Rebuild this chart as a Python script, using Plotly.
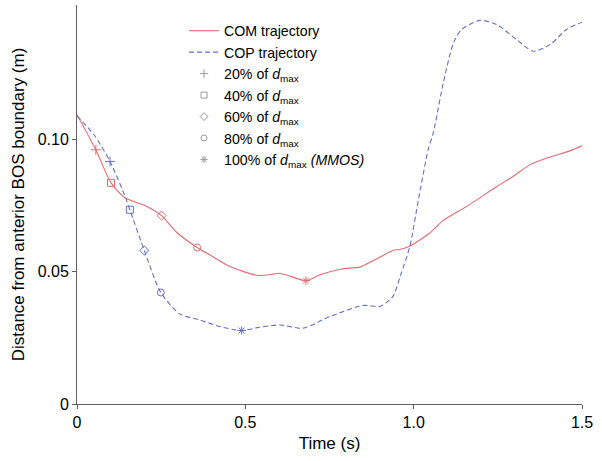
import plotly.graph_objects as go

# COM trajectory (red, solid)
com_t = [0, 0.056, 0.101, 0.143, 0.2, 0.251, 0.296, 0.357, 0.40, 0.454, 0.534, 0.573, 0.597,
         0.62, 0.680, 0.722, 0.790, 0.840, 0.90, 0.94, 0.959, 0.989, 1.048, 1.087, 1.158,
         1.247, 1.295, 1.345, 1.396, 1.464, 1.5]
com_d = [0.1095, 0.0962, 0.0837, 0.078, 0.0752, 0.0713, 0.0650, 0.0592, 0.0560, 0.0520,
         0.0487, 0.0489, 0.0495, 0.0489, 0.0467, 0.0489, 0.0512, 0.0518, 0.0556, 0.0582,
         0.0585, 0.0598, 0.0647, 0.0694, 0.0748, 0.0823, 0.0861, 0.0905, 0.0931, 0.0958, 0.0977]

# COP trajectory (blue, dashed)
cop_t = [0, 0.05, 0.098, 0.145, 0.157, 0.2, 0.249, 0.306, 0.365, 0.425, 0.489, 0.54, 0.603,
         0.672, 0.751, 0.85, 0.90, 0.925, 0.94, 0.962, 0.989, 1.014, 1.043, 1.058, 1.088,
         1.118, 1.142, 1.197, 1.247, 1.306, 1.355, 1.405, 1.454, 1.5]
cop_d = [0.109, 0.102, 0.0918, 0.0779, 0.0735, 0.0581, 0.0422, 0.0340, 0.0318, 0.0293,
         0.0278, 0.0290, 0.0299, 0.0287, 0.0331, 0.0373, 0.0369, 0.0390, 0.0410, 0.0490,
         0.0598, 0.0773, 0.0962, 0.1025, 0.1215, 0.1366, 0.1417, 0.1452, 0.1436, 0.1379,
         0.1335, 0.1360, 0.1417, 0.1445]

# Markers at fractions of d_max
mark_labels = ["20%", "40%", "60%", "80%", "100%"]
mark_symbols = ["cross-thin-open", "square-open", "diamond-open", "circle-open", "asterisk-open"]
com_mark_t = [0.056, 0.101, 0.251, 0.357, 0.680]
com_mark_d = [0.0962, 0.0837, 0.0713, 0.0592, 0.0467]
cop_mark_t = [0.098, 0.157, 0.2, 0.249, 0.489]
cop_mark_d = [0.0918, 0.0735, 0.0581, 0.0422, 0.0278]

x_ticks = [0, 0.5, 1.0, 1.5]
x_ticktext = ["0", "0.5", "1.0", "1.5"]
y_ticks = [0, 0.05, 0.10]
y_ticktext = ["0", "0.05", "0.10"]

RED = "#e06c72"
BLUE = "#6670c4"
GRAY = "#9a9a9a"

fig = go.Figure()
fig.add_trace(go.Scatter(x=com_t, y=com_d, mode="lines", name="COM trajectory",
                         line=dict(color=RED, width=1.1, shape="spline", smoothing=0.7)))
fig.add_trace(go.Scatter(x=cop_t, y=cop_d, mode="lines", name="COP trajectory",
                         line=dict(color=BLUE, width=1.1, dash="5px,3px", shape="spline", smoothing=0.7)))

for i in range(5):
    fig.add_trace(go.Scatter(x=[com_mark_t[i]], y=[com_mark_d[i]], mode="markers", showlegend=False,
                             marker=dict(symbol=mark_symbols[i], size=7, color=RED,
                                         line=dict(color=RED, width=1))))
    fig.add_trace(go.Scatter(x=[cop_mark_t[i]], y=[cop_mark_d[i]], mode="markers", showlegend=False,
                             marker=dict(symbol=mark_symbols[i], size=7, color=BLUE,
                                         line=dict(color=BLUE, width=1))))

for i in range(5):
    label = mark_labels[i] + " of <i>d</i><sub>max</sub>"
    if i == 4:
        label += " <i>(MMOS)</i>"
    fig.add_trace(go.Scatter(x=[None], y=[None], mode="markers", name=label,
                             marker=dict(symbol=mark_symbols[i], size=6, color=GRAY,
                                         line=dict(color=GRAY, width=1))))

axis_common = dict(showline=True, linecolor="#606060", linewidth=1, ticks="outside",
                   ticklen=4, tickcolor="#606060", showgrid=False, zeroline=False,
                   tickfont=dict(size=16, color="black"), mirror=False)

fig.update_layout(
    width=602, height=461,
    margin=dict(l=77, r=20, t=5, b=57),
    paper_bgcolor="white", plot_bgcolor="white",
    font=dict(family="Liberation Sans, Arial, sans-serif", color="black"),
    showlegend=True,
    legend=dict(x=0.212, y=0.975, xanchor="left", yanchor="top", bgcolor="rgba(0,0,0,0)",
                font=dict(size=14.2), tracegroupgap=0),
    xaxis=dict(range=[0, 1.5], tickvals=x_ticks, ticktext=x_ticktext,
               title=dict(text="Time (s)", font=dict(size=17), standoff=6), **axis_common),
    yaxis=dict(range=[0, 0.151], tickvals=y_ticks, ticktext=y_ticktext,
               title=dict(text="Distance from anterior BOS boundary (m)", font=dict(size=17), standoff=8),
               **axis_common),
)

fig.write_html("out.html", config={"displayModeBar": False},
               post_script="document.body.style.margin='0';document.body.style.overflow='hidden';")
